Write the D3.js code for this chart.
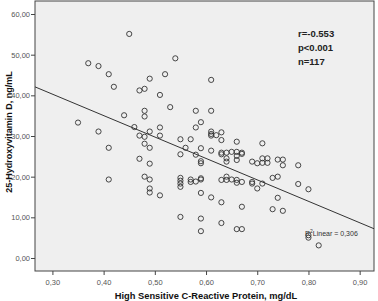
<!DOCTYPE html>
<html>
<head>
<meta charset="utf-8">
<script src="https://cdn.jsdelivr.net/npm/d3@7"></script>
<style>
  body { margin: 0; background: #fff; }
  svg { display: block; font-family: "Liberation Sans", Arial, sans-serif; }
</style>
</head>
<body>
<div id="chart"></div>
<script>
// hs-CRP (mg/dL) and 25(OH)D (ng/mL)
var hsCRP = [
    0.35, 0.37, 0.39, 0.39, 0.41, 0.41, 0.41, 0.42, 0.44, 0.45,
    0.46, 0.47, 0.47, 0.47, 0.48, 0.48, 0.48, 0.48, 0.48, 0.48,
    0.49, 0.49, 0.49, 0.49, 0.49, 0.49, 0.49, 0.51, 0.51, 0.51,
    0.51, 0.52, 0.53, 0.54, 0.55, 0.55, 0.55, 0.55, 0.55, 0.55,
    0.55, 0.56, 0.57, 0.57, 0.57, 0.58, 0.58, 0.58, 0.58, 0.59,
    0.59, 0.59, 0.59, 0.59, 0.59, 0.59, 0.59, 0.59, 0.61, 0.61,
    0.61, 0.61, 0.61, 0.61, 0.61, 0.62, 0.63, 0.63, 0.63, 0.63,
    0.63, 0.63, 0.64, 0.64, 0.64, 0.64, 0.64, 0.65, 0.65, 0.66,
    0.66, 0.66, 0.66, 0.66, 0.66, 0.66, 0.67, 0.67, 0.67, 0.67,
    0.67, 0.69, 0.69, 0.69, 0.70, 0.70, 0.71, 0.71, 0.71, 0.71,
    0.72, 0.72, 0.73, 0.73, 0.74, 0.74, 0.74, 0.75, 0.75, 0.75,
    0.78, 0.78, 0.80, 0.80, 0.80, 0.82, 0.63
];
var vitD = [
    33.3, 47.9, 47.2, 31.1, 45.2, 27.1, 19.3, 42.1, 35.1, 55.1,
    32.2, 41.2, 30.1, 24.4, 41.6, 36.2, 34.8, 29.8, 28.1, 20.0,
    44.1, 31.1, 27.1, 23.2, 19.3, 17.1, 16.1, 40.1, 32.1, 30.1,
    15.4, 45.2, 37.1, 49.1, 29.2, 25.5, 19.7, 19.0, 18.3, 17.5,
    10.1, 27.1, 29.2, 19.3, 18.7, 36.2, 32.1, 25.4, 18.8, 33.4,
    27.0, 23.8, 23.3, 19.6, 19.3, 16.0, 9.7, 6.6, 43.8, 36.2,
    31.1, 30.5, 30.1, 26.4, 14.9, 30.2, 30.9, 29.0, 25.9, 19.2,
    13.7, 8.6, 25.9, 24.5, 23.7, 20.0, 19.2, 26.1, 19.3, 28.6,
    26.1, 25.1, 24.1, 19.2, 18.5, 7.1, 25.9, 25.6, 18.7, 12.6,
    7.1, 23.7, 18.7, 18.3, 23.3, 17.1, 28.2, 24.5, 23.4, 18.3,
    24.5, 23.4, 19.7, 12.0, 24.2, 20.0, 14.8, 24.2, 22.8, 11.6,
    22.8, 18.2, 16.9, 5.6, 5.0, 3.1, 25.5
];

var xTicks = [0.30, 0.40, 0.50, 0.60, 0.70, 0.80, 0.90];
var yTicks = [0, 10, 20, 30, 40, 50, 60];

// fit line drawn in the figure
var fitIntercept = 56.1;
var fitSlope = -52.7;

var statsLines = ["r=-0.553", "p<0.001", "n=117"];
var r2Label = "Linear = 0,306";

var W = 378, H = 301;
var plot = {left: 35, top: 1, right: 374, bottom: 271};

var svg = d3.select("#chart")
    .append("svg")
    .attr("width", W)
    .attr("height", H);

var x = d3.scaleLinear().domain([0.266, 0.928]).range([plot.left, plot.right]);
var y = d3.scaleLinear().domain([-3.2, 63.2]).range([plot.bottom, plot.top]);

var fmt = function(d) { return d3.format(".2f")(d).replace(".", ","); };

svg.append("rect")
    .attr("x", plot.left)
    .attr("y", plot.top)
    .attr("width", plot.right - plot.left)
    .attr("height", plot.bottom - plot.top)
    .attr("fill", "#efefef")
    .attr("stroke", "#444")
    .attr("stroke-width", 1);

svg.append("clipPath")
    .attr("id", "clip")
    .append("rect")
    .attr("x", plot.left)
    .attr("y", plot.top)
    .attr("width", plot.right - plot.left)
    .attr("height", plot.bottom - plot.top);

var xAxis = svg.append("g")
    .attr("transform", "translate(0," + plot.bottom + ")")
    .call(d3.axisBottom(x).tickValues(xTicks).tickFormat(fmt).tickSize(4).tickSizeOuter(0));

var yAxis = svg.append("g")
    .attr("transform", "translate(" + plot.left + ",0)")
    .call(d3.axisLeft(y).tickValues(yTicks).tickFormat(fmt).tickSize(4).tickSizeOuter(0));

[xAxis, yAxis].forEach(function(g) {
    g.select(".domain").remove();
    g.selectAll(".tick line").attr("stroke", "#444");
    g.selectAll(".tick text")
        .attr("fill", "#555")
        .style("font-size", "7.5px")
        .style("font-family", "'Liberation Sans', Arial, sans-serif");
});
xAxis.selectAll(".tick text").attr("dy", "1em").attr("y", 6);
yAxis.selectAll(".tick text").attr("x", -5);

// fit line
var x0 = x.domain()[0], x1 = x.domain()[1];
svg.append("line")
    .attr("clip-path", "url(#clip)")
    .attr("x1", x(x0))
    .attr("y1", y(fitIntercept + fitSlope * x0))
    .attr("x2", x(x1))
    .attr("y2", y(fitIntercept + fitSlope * x1))
    .attr("stroke", "#333")
    .attr("stroke-width", 1);

// points
svg.append("g")
    .selectAll("circle")
    .data(hsCRP.map(function(d, i) { return {x: d, y: vitD[i]}; }))
    .enter().append("circle")
    .attr("cx", d => x(d.x))
    .attr("cy", d => y(d.y))
    .attr("r", 2.6)
    .attr("fill", "none")
    .attr("stroke", "#333")
    .attr("stroke-width", 0.9);

// stats box
svg.append("g")
    .selectAll("text")
    .data(statsLines)
    .enter().append("text")
    .attr("x", 298)
    .attr("y", (d, i) => 37 + i * 14)
    .attr("font-size", "9.5px")
    .attr("font-weight", "bold")
    .attr("fill", "#222")
    .text(d => d);

// R² label
var r2 = svg.append("text")
    .attr("x", 305)
    .attr("y", 236)
    .attr("font-size", "7px")
    .attr("fill", "#333");
r2.append("tspan").text("R");
r2.append("tspan").attr("dy", -3).attr("font-size", "5px").text("2");
r2.append("tspan").attr("dy", 3).text(r2Label);

// axis titles
svg.append("text")
    .attr("x", 206)
    .attr("y", 299)
    .attr("text-anchor", "middle")
    .attr("font-size", "9.3px")
    .attr("font-weight", "bold")
    .attr("fill", "#111")
    .text("High Sensitive C-Reactive Protein, mg/dL");

svg.append("text")
    .attr("transform", "translate(12,132) rotate(-90)")
    .attr("text-anchor", "middle")
    .attr("font-size", "9px")
    .attr("font-weight", "bold")
    .attr("fill", "#111")
    .text("25-Hydroxyvitamin D, ng/mL");
</script>
</body>
</html>
